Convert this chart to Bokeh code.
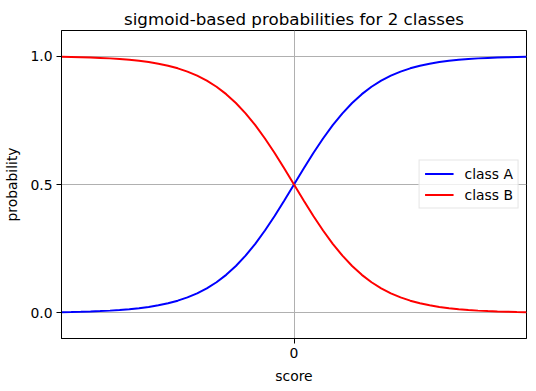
from bokeh.plotting import figure
from bokeh.models import FixedTicker, Range1d, Legend, LegendItem
from bokeh.embed import file_html
from bokeh.resources import INLINE

score = [-6.0, -5.75, -5.5, -5.25, -5.0, -4.75, -4.5, -4.25, -4.0, -3.75, -3.5, -3.25,
         -3.0, -2.75, -2.5, -2.25, -2.0, -1.75, -1.5, -1.25, -1.0, -0.75, -0.5, -0.25,
         0.0, 0.25, 0.5, 0.75, 1.0, 1.25, 1.5, 1.75, 2.0, 2.25, 2.5, 2.75,
         3.0, 3.25, 3.5, 3.75, 4.0, 4.25, 4.5, 4.75, 5.0, 5.25, 5.5, 5.75, 6.0]
class_a = [0.0025, 0.0032, 0.0041, 0.0052, 0.0067, 0.0086, 0.0110, 0.0140, 0.0180, 0.0230,
           0.0293, 0.0373, 0.0474, 0.0601, 0.0759, 0.0953, 0.1192, 0.1480, 0.1824, 0.2227,
           0.2689, 0.3208, 0.3775, 0.4378, 0.5000, 0.5622, 0.6225, 0.6792, 0.7311, 0.7773,
           0.8176, 0.8520, 0.8808, 0.9047, 0.9241, 0.9399, 0.9526, 0.9627, 0.9707, 0.9770,
           0.9820, 0.9860, 0.9890, 0.9914, 0.9933, 0.9948, 0.9959, 0.9968, 0.9975]
class_b = [0.9975, 0.9968, 0.9959, 0.9948, 0.9933, 0.9914, 0.9890, 0.9860, 0.9820, 0.9770,
           0.9707, 0.9627, 0.9526, 0.9399, 0.9241, 0.9047, 0.8808, 0.8520, 0.8176, 0.7773,
           0.7311, 0.6792, 0.6225, 0.5622, 0.5000, 0.4378, 0.3775, 0.3208, 0.2689, 0.2227,
           0.1824, 0.1480, 0.1192, 0.0953, 0.0759, 0.0601, 0.0474, 0.0373, 0.0293, 0.0230,
           0.0180, 0.0140, 0.0110, 0.0086, 0.0067, 0.0052, 0.0041, 0.0032, 0.0025]
x_ticks = [0]
y_ticks = [0.0, 0.5, 1.0]
y_tick_labels = {0.0: "0.0", 0.5: "0.5", 1.0: "1.0"}

FONT = "DejaVu Sans"

p = figure(output_backend="svg", toolbar_location=None,
           title="sigmoid-based probabilities for 2 classes",
           frame_width=465, frame_height=308,
           min_border_left=61, min_border_right=10, min_border_top=30, min_border_bottom=53,
           x_range=Range1d(-6, 6), y_range=Range1d(-0.1, 1.1),
           x_axis_label="score", y_axis_label="probability")

p.title.align = "center"
p.title.text_font = FONT
p.title.text_font_size = "16.7px"
p.title.text_font_style = "normal"
p.title.text_color = "black"
p.title.standoff = 4

la = p.line(score, class_a, line_color="#0000ff", line_width=2)
lb = p.line(score, class_b, line_color="#ff0000", line_width=2)

for ax in (p.xaxis[0], p.yaxis[0]):
    ax.axis_label_text_font = FONT
    ax.axis_label_text_font_size = "13.9px"
    ax.axis_label_text_font_style = "normal"
    ax.axis_label_text_color = "black"
    ax.major_label_text_font = FONT
    ax.major_label_text_font_size = "13.9px"
    ax.major_label_text_color = "black"
    ax.minor_tick_line_color = None
    ax.major_tick_out = 5
    ax.major_tick_in = 0
    ax.major_tick_line_color = "black"
    ax.axis_line_color = "black"
    ax.major_label_standoff = 4
    ax.axis_label_standoff = 7

p.xaxis.ticker = FixedTicker(ticks=x_ticks)
p.yaxis.ticker = FixedTicker(ticks=y_ticks)
p.yaxis.major_label_overrides = y_tick_labels

p.grid.grid_line_color = "#b0b0b0"
p.grid.grid_line_width = 1
p.xgrid.ticker = FixedTicker(ticks=x_ticks)
p.ygrid.ticker = FixedTicker(ticks=y_ticks)

p.outline_line_color = "black"
p.outline_line_width = 1
p.background_fill_color = "white"
p.border_fill_color = "white"

legend = Legend(items=[LegendItem(label="class A", renderers=[la]),
                       LegendItem(label="class B", renderers=[lb])],
                location="center_right")
legend.label_text_font = FONT
legend.label_text_font_size = "13.9px"
legend.label_text_color = "black"
legend.glyph_width = 29
legend.glyph_height = 14
legend.label_standoff = 11
legend.spacing = 5
legend.padding = 5
legend.margin = 7
legend.border_line_color = "#cccccc"
legend.border_line_width = 1
legend.background_fill_alpha = 0.8
p.add_layout(legend)

open("out.html", "w").write(file_html(p, INLINE))
